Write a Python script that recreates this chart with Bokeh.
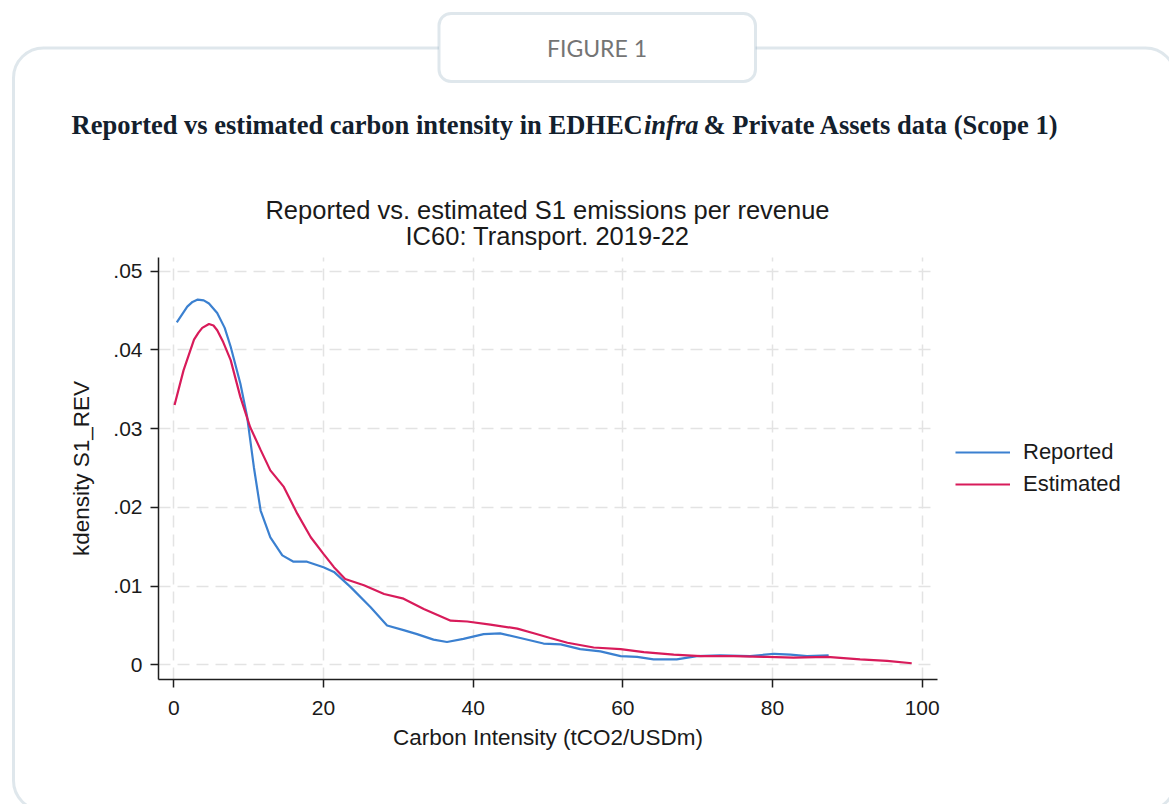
from bokeh.plotting import figure
from bokeh.models import (Range1d, FixedTicker, Label, BoxAnnotation, Legend,
                          LegendItem, ColumnDataSource)
from bokeh.embed import file_html
from bokeh.resources import INLINE

# ---------------- data ----------------
rep_x = [0.4, 1.8, 2.5, 3.2, 4.0, 4.7, 5.8, 6.8, 7.6, 8.9, 9.8, 10.7, 11.6, 12.9, 14.5,
         16.0, 17.8, 20.0, 21.4, 23.6, 26.3, 28.5, 30.7, 32.5, 34.7, 36.5, 38.7,
         41.4, 43.6, 46.3, 49.4, 51.7, 54.3, 57.0, 59.7, 61.9, 64.1, 67.2, 69.9,
         73.0, 77.0, 80.2, 82.4, 84.6, 87.5]
rep_y = [0.0435, 0.0455, 0.0461, 0.0464, 0.0463, 0.0459, 0.0447, 0.0428, 0.0404,
         0.0357, 0.0315, 0.0251, 0.0196, 0.0162, 0.0139, 0.0131, 0.0131, 0.0124,
         0.0118, 0.0099, 0.0073, 0.0050, 0.0044, 0.0039, 0.0032, 0.0029, 0.0033,
         0.0039, 0.0040, 0.0034, 0.0027, 0.0026, 0.0020, 0.0017, 0.0011, 0.0010,
         0.0007, 0.0007, 0.0011, 0.0012, 0.0011, 0.0014, 0.0013, 0.0011, 0.0012]

est_x = [0.1, 1.3, 2.7, 3.3, 3.8, 4.7, 5.3, 5.8, 6.6, 7.6, 8.9, 10.2, 11.6, 12.9, 14.7,
         16.5, 18.3, 20.0, 21.4, 22.9, 25.4, 28.1, 30.7, 33.4, 37.0, 39.2, 42.3,
         45.9, 48.1, 50.3, 52.6, 56.1, 59.7, 62.8, 66.8, 70.4, 74.8, 79.3, 82.8,
         87.3, 91.7, 95.3, 98.6]
est_y = [0.0330, 0.0374, 0.0413, 0.0422, 0.0428, 0.0433, 0.0431, 0.0425, 0.0410,
         0.0387, 0.0340, 0.0302, 0.0273, 0.0247, 0.0226, 0.0192, 0.0162, 0.0141,
         0.0124, 0.0109, 0.0101, 0.0090, 0.0084, 0.0071, 0.0056, 0.0055, 0.0051,
         0.0046, 0.0040, 0.0034, 0.0028, 0.0022, 0.0020, 0.0016, 0.0013, 0.0011,
         0.0011, 0.0010, 0.0009, 0.0010, 0.0007, 0.0005, 0.0002]

series_names = ["Reported", "Estimated"]
x_ticks = [0, 20, 40, 60, 80, 100]
y_ticks = [0, 0.01, 0.02, 0.03, 0.04, 0.05]
y_tick_labels = ["0", ".01", ".02", ".03", ".04", ".05"]

fig_label = "FIGURE 1"
head_1 = "Reported vs estimated carbon intensity in EDHEC"
head_2 = "infra"
head_3 = "& Private Assets data (Scope 1)"
title_1 = "Reported vs. estimated S1 emissions per revenue"
title_2 = "IC60: Transport. 2019-22"
x_title = "Carbon Intensity (tCO2/USDm)"
y_title = "kdensity S1_REV"

# ---------------- layout constants (canvas pixels) ----------------
W, H = 1169, 804
FL, FR, FT, FB = 158, 937, 257, 679      # chart area edges
X0_PX, X_PER_UNIT = 173.3, 7.484          # x = 0 position and px per unit
Y0_PX, Y_PER_UNIT = 664.3, 7872.0         # y = 0 position and px per unit


def dx(X):   # canvas px -> data x
    return (X - X0_PX) / X_PER_UNIT


def dy(Y):   # canvas px -> data y
    return (Y0_PX - Y) / Y_PER_UNIT


def sx(X):   # canvas px -> screen units (frame covers the canvas)
    return X


def sy(Y):
    return H - Y


BLUE = "#3b80d0"
RED = "#d81b5a"
FRAME_COL = "#94aec1"
INK = "#1a1a1a"
NAVY = "#13202d"

p = figure(width=W, height=H, output_backend="svg", toolbar_location=None,
           x_range=Range1d(dx(0), dx(W)), y_range=Range1d(dy(H), dy(0)),
           min_border=0, min_border_left=0, min_border_right=0,
           min_border_top=0, min_border_bottom=0)
p.outline_line_color = None
p.background_fill_color = "white"
p.border_fill_color = "white"

# panel outline and header box
panel = BoxAnnotation(left=sx(13), right=sx(1175), top=sy(47.5), bottom=sy(810),
                      left_units="screen", right_units="screen",
                      top_units="screen", bottom_units="screen",
                      fill_alpha=0, line_color=FRAME_COL, line_width=3,
                      border_radius=30)
p.add_layout(panel)
header = BoxAnnotation(left=sx(438.5), right=sx(755), top=sy(13), bottom=sy(81),
                       left_units="screen", right_units="screen",
                       top_units="screen", bottom_units="screen",
                       fill_color="white", fill_alpha=1, line_color=FRAME_COL,
                       line_width=3, border_radius=12)
p.add_layout(header)

# axes placed inside the canvas-wide frame
p.xaxis.fixed_location = dy(FB)
p.yaxis.fixed_location = dx(FL)
p.xaxis.bounds = (dx(FL), dx(FR))
p.yaxis.bounds = (dy(FB), dy(FT))
p.xaxis.ticker = FixedTicker(ticks=x_ticks)
p.yaxis.ticker = FixedTicker(ticks=y_ticks)
p.yaxis.major_label_overrides = dict(zip(y_ticks, y_tick_labels))
p.xgrid.ticker = FixedTicker(ticks=x_ticks)
p.ygrid.ticker = FixedTicker(ticks=y_ticks)
try:
    p.xgrid.cross_bounds = (dy(FB), dy(FT))
    p.ygrid.cross_bounds = (dx(FL), dx(FR))
except Exception:
    pass
for ax in (p.xaxis[0], p.yaxis[0]):
    ax.axis_line_color = "#1e1e1e"
    ax.axis_line_width = 1.5
    ax.major_tick_line_color = "#1e1e1e"
    ax.major_tick_line_width = 1.5
    ax.major_tick_in = 0
    ax.major_tick_out = 8
    ax.minor_tick_line_color = None
    ax.major_label_text_font = "Liberation Sans"
    ax.major_label_text_font_size = "21px"
    ax.major_label_text_color = INK
    ax.axis_label_text_font = "Liberation Sans"
    ax.axis_label_text_font_size = "22.5px"
    ax.axis_label_text_font_style = "normal"
    ax.axis_label_text_color = INK
p.xaxis.axis_label = x_title
p.yaxis.axis_label = y_title
p.xaxis.major_label_standoff = 13
p.xaxis.axis_label_standoff = 7
p.yaxis.major_label_standoff = 8
p.yaxis.axis_label_standoff = 16

p.grid.grid_line_color = "#e3e3e3"
p.grid.grid_line_width = 1.5
p.grid.grid_line_dash = "12 7"

# curves
src_r = ColumnDataSource(dict(x=rep_x, y=rep_y))
src_e = ColumnDataSource(dict(x=est_x, y=est_y))
r_rep = p.line("x", "y", source=src_r, line_color=BLUE, line_width=2.2)
r_est = p.line("x", "y", source=src_e, line_color=RED, line_width=2.2)

legend = Legend(items=[LegendItem(label=series_names[0], renderers=[r_rep]),
                       LegendItem(label=series_names[1], renderers=[r_est])],
                location=(sx(955), sy(497)), orientation="vertical",
                glyph_width=55, glyph_height=22, label_height=22,
                label_standoff=13, spacing=6, padding=0, margin=0,
                border_line_alpha=0, background_fill_alpha=0,
                label_text_font="Liberation Sans", label_text_font_size="22px",
                label_text_color=INK)
p.add_layout(legend)


# texts
def lab(text, X, Y, font, size, color, style="normal", align="left", baseline="alphabetic"):
    p.add_layout(Label(x=sx(X), y=sy(Y), x_units="screen", y_units="screen",
                       text=text, text_font=font, text_font_size=size,
                       text_color=color, text_font_style=style,
                       text_align=align, text_baseline=baseline))


lab(fig_label, 596.5, 47.5, "Lato", "23px", "#747474", align="center", baseline="middle")
lab(head_1, 71, 124, "Liberation Serif", "26.5px", NAVY, style="bold")
lab(head_2, 643.5, 124, "Liberation Serif", "26.5px", NAVY, style="bold italic")
lab(head_3, 703, 124, "Liberation Serif", "26.5px", NAVY, style="bold")
lab(title_1, 547, 209, "Liberation Sans", "25.5px", INK, align="center", baseline="middle")
lab(title_2, 547, 235, "Liberation Sans", "25.5px", INK, align="center", baseline="middle")

open("out.html", "w").write(file_html(p, INLINE))
